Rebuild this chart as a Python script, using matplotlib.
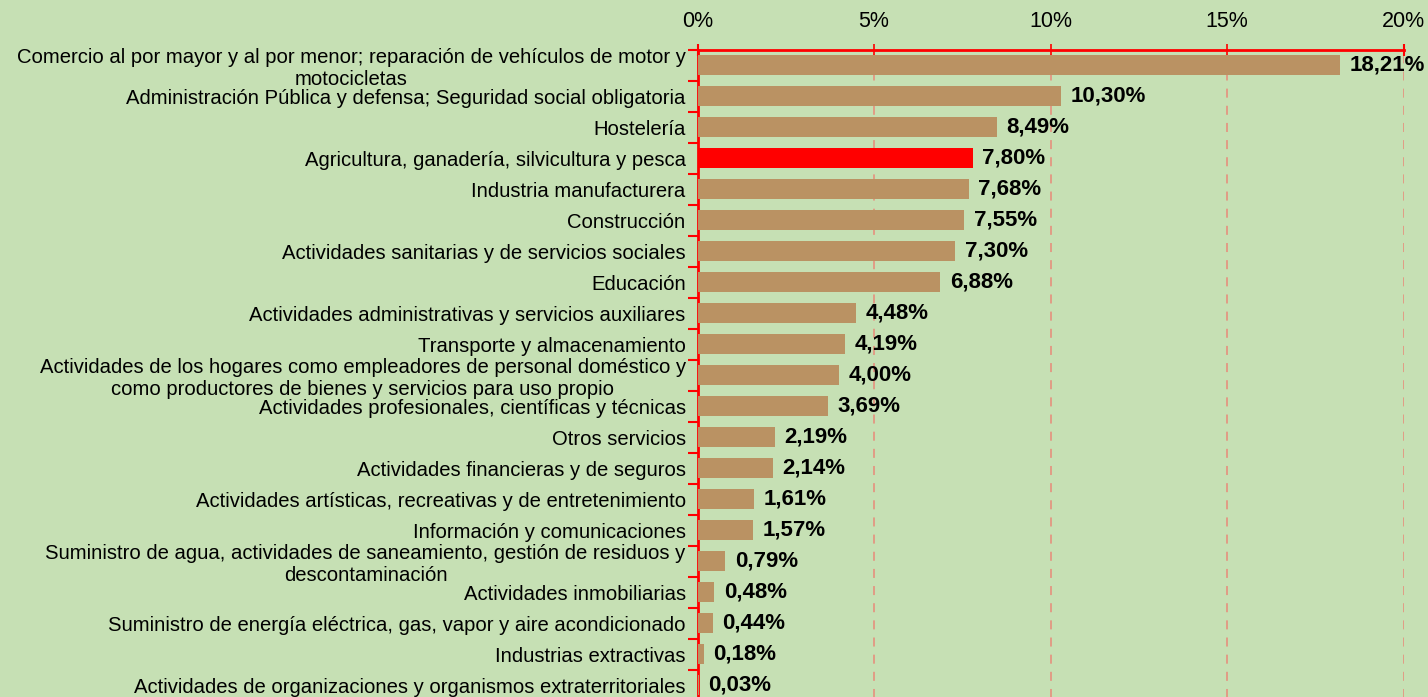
import matplotlib
matplotlib.use("Agg")
import matplotlib.pyplot as plt
import numpy as np

categories = [
    "Comercio al por mayor y al por menor; reparación de vehículos de motor y\nmotocicletas",
    "Administración Pública y defensa; Seguridad social obligatoria",
    "Hostelería",
    "Agricultura, ganadería, silvicultura y pesca",
    "Industria manufacturera",
    "Construcción",
    "Actividades sanitarias y de servicios sociales",
    "Educación",
    "Actividades administrativas y servicios auxiliares",
    "Transporte y almacenamiento",
    "Actividades de los hogares como empleadores de personal doméstico y\ncomo productores de bienes y servicios para uso propio",
    "Actividades profesionales, científicas y técnicas",
    "Otros servicios",
    "Actividades financieras y de seguros",
    "Actividades artísticas, recreativas y de entretenimiento",
    "Información y comunicaciones",
    "Suministro de agua, actividades de saneamiento, gestión de residuos y\ndescontaminación",
    "Actividades inmobiliarias",
    "Suministro de energía eléctrica, gas, vapor y aire acondicionado",
    "Industrias extractivas",
    "Actividades de organizaciones y organismos extraterritoriales",
]
values = [18.21, 10.30, 8.49, 7.80, 7.68, 7.55, 7.30, 6.88, 4.48, 4.19, 4.00,
          3.69, 2.19, 2.14, 1.61, 1.57, 0.79, 0.48, 0.44, 0.18, 0.03]
highlight = "Agricultura, ganadería, silvicultura y pesca"
xticks = [0, 5, 10, 15, 20]

plt.rcParams['font.family'] = ['Liberation Sans', 'DejaVu Sans']

bg = "#C6E0B4"
bar_col = "#BA9263"
red = "#FF0000"
grid_col = "#E39682"

fig = plt.figure(figsize=(14.28, 6.97), dpi=100, facecolor=bg)
ax = fig.add_axes([697.5 / 1428, 1 - 700.5 / 697, (1403.5 - 697.5) / 1428, 651 / 697])
ax.set_facecolor(bg)

n = len(categories)
y = np.arange(n)
colors = [red if c == highlight else bar_col for c in categories]
ax.barh(y, values, height=0.65, color=colors, zorder=3)

ax.set_xlim(0, 20)
ax.set_ylim(n - 0.5, -0.5)

ax.xaxis.tick_top()
ax.set_xticks(xticks)
ax.set_xticklabels([f"{t}%" for t in xticks], fontsize=15.5)
ax.tick_params(axis='x', direction='inout', length=9, width=1.5, color=red, pad=8)
for i, tk in enumerate(ax.xaxis.get_major_ticks()):
    if 0 < i < len(xticks) - 1:
        tk.tick2line.set_color(grid_col)
        tk.tick2line.set_markeredgewidth(1.2)

ax.set_yticks(y)
ax.set_yticklabels(categories, fontsize=14.6, multialignment='center')
ax.tick_params(axis='y', length=0, pad=8.5)
ax.set_yticks(np.arange(n + 1) - 0.5, minor=True)
ax.tick_params(axis='y', which='minor', length=7, width=1.5, color=red, direction='out')

for s in ['right', 'bottom']:
    ax.spines[s].set_visible(False)
for s in ['top', 'left']:
    ax.spines[s].set_color(red)
    ax.spines[s].set_linewidth(2)

for t in xticks[1:]:
    ax.axvline(t, color=grid_col, linestyle=(0, (5, 4.5)), linewidth=1.3, zorder=1)

for yi, v in zip(y, values):
    ax.text(v + 0.27, yi, f"{v:.2f}%".replace(".", ","), va='center', ha='left',
            fontsize=16, fontweight='bold', zorder=4)

fig.savefig("out.png", dpi=100, facecolor=bg)
